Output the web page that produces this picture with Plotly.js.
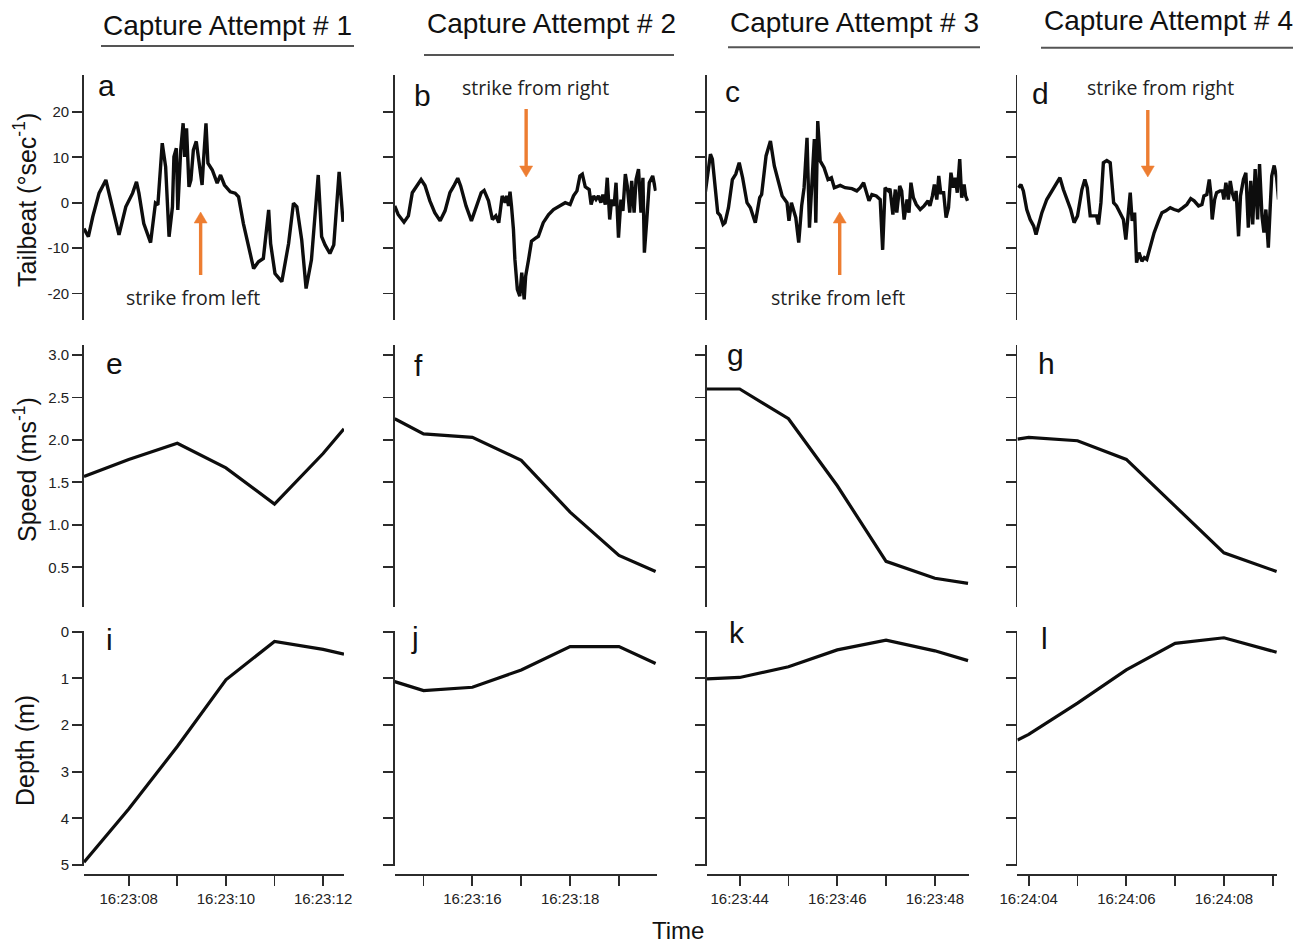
<!DOCTYPE html>
<html><head><meta charset="utf-8">
<script src="https://cdn.plot.ly/plotly-3.0.1.min.js"></script>
<style>html,body{margin:0;padding:0;background:#fff}#chart{width:1307px;height:946px}</style>
</head><body><div id="chart"></div>
<script>
// ---------------- DATA ----------------
const headers = ['Capture Attempt # 1','Capture Attempt # 2','Capture Attempt # 3','Capture Attempt # 4'];
const panelLetters = [['a','b','c','d'],['e','f','g','h'],['i','j','k','l']];
const rowTitles = ['Tailbeat (°sec<sup>-1</sup>)','Speed (ms<sup>-1</sup>)','Depth (m)'];
const strikeLabels = ['strike from left','strike from right','strike from left','strike from right'];
// strike times (s within the minute shown on each column's axis)
const strikeTimes = [9.48, 17.10, 46.05, 6.44];

// Tailbeat time series (seconds) and values (deg/sec)
const tA = [7.08,7.17,7.26,7.39,7.53,7.67,7.80,7.94,8.08,8.16,8.21,8.31,8.45,8.55,8.60,8.69,8.76,8.83,8.90,8.93,8.98,9.01,9.07,9.12,9.15,9.19,9.24,9.28,9.33,9.39,9.46,9.51,9.54,9.59,9.63,9.72,9.82,9.89,9.97,10.09,10.19,10.26,10.36,10.47,10.57,10.67,10.77,10.88,10.92,11.01,11.15,11.29,11.39,11.46,11.56,11.65,11.76,11.90,11.97,12.04,12.14,12.22,12.33,12.41];
const tbA = [-5.7,-7.5,-3.1,2.1,5.0,-0.9,-7.1,-0.9,2.1,4.6,2.1,-4.6,-8.8,-0.1,-0.5,13.1,7.9,-7.5,-0.9,10.1,12.0,-1.6,11.6,17.5,10.1,16.4,3.5,5.0,11.6,13.5,7.9,3.9,9.4,17.5,8.7,7.2,4.3,6.1,3.9,2.4,2.1,1.3,-4.6,-9.7,-14.5,-13.0,-12.3,-1.6,-9.0,-15.6,-17.4,-9.0,-0.1,-0.9,-8.2,-18.9,-12.6,6.1,-7.5,-9.3,-11.2,-9.3,6.8,-4.2];

const tB = [14.41,14.48,14.60,14.69,14.77,14.86,14.95,15.03,15.13,15.23,15.34,15.44,15.54,15.62,15.70,15.76,15.87,15.98,16.09,16.18,16.24,16.33,16.41,16.48,16.54,16.61,16.67,16.70,16.74,16.77,16.80,16.84,16.87,16.92,16.97,17.01,17.06,17.09,17.15,17.21,17.28,17.35,17.45,17.56,17.66,17.79,17.90,18.00,18.07,18.14,18.20,18.25,18.31,18.39,18.43,18.48,18.53,18.58,18.63,18.67,18.72,18.76,18.81,18.85,18.90,18.94,18.99,19.04,19.08,19.13,19.17,19.22,19.26,19.31,19.35,19.40,19.45,19.49,19.52,19.57,19.62,19.69,19.75];
const tbB = [-0.7,-2.6,-4.3,-2.9,2.2,3.8,5.1,3.8,0.4,-2.2,-4.0,-1.8,2.2,3.7,5.4,3.7,-0.7,-4.0,-0.7,2.2,2.7,0.4,-3.7,-2.9,-4.4,1.5,0,1.5,-0.7,2.4,-0.7,-5.9,-12.5,-19.1,-20.6,-15.4,-21.3,-16.2,-12.5,-8.5,-7.9,-7.4,-4.4,-2.6,-1.5,-0.7,0,-0.4,1.5,2.6,5.9,6.3,3.5,2.9,-0.4,1.5,0.7,1.5,0,1.8,-0.4,5.5,-3.7,0.7,-0.7,4.4,-7.7,0.7,-1.8,6.3,3.7,-2.2,4.8,-2.2,5.1,7.4,-2.2,5.5,-11.0,-3.7,4.4,5.9,2.6];

const tC = [43.29,43.34,43.40,43.44,43.50,43.55,43.60,43.66,43.70,43.77,43.85,43.92,43.99,44.06,44.15,44.22,44.32,44.41,44.45,44.54,44.63,44.71,44.80,44.87,44.97,45.01,45.06,45.10,45.15,45.21,45.27,45.32,45.38,45.43,45.48,45.53,45.56,45.60,45.65,45.73,45.81,45.88,45.94,46.06,46.16,46.30,46.40,46.47,46.54,46.61,46.65,46.71,46.80,46.88,46.93,46.98,47.05,47.08,47.14,47.19,47.22,47.28,47.32,47.37,47.43,47.47,47.51,47.56,47.62,47.70,47.78,47.86,47.90,47.95,47.99,48.04,48.08,48.12,48.18,48.23,48.28,48.33,48.38,48.42,48.46,48.51,48.55,48.60,48.63,48.67];
const tbC = [1.8,5.9,10.7,9.6,3.7,-2.2,-2.8,-4.8,-4.4,-1.1,5.1,6.3,8.8,5.5,0,-1.1,-4.4,1.1,1.8,10.3,13.6,8.1,4.4,1.5,0,-4.0,0,-1.8,-3.3,-8.8,-0.7,3.3,14.3,-5.5,4.4,14.0,-4.4,18.0,9.2,7.7,5.1,5.5,3.3,3.8,3.3,3.1,2.6,3.3,4.4,1.5,0.4,1.8,1.5,0.7,-10.4,3.3,2.6,3.1,-2.6,2.9,-2.2,3.7,2.6,-3.7,0.7,-2.2,4.4,1.1,-0.4,-1.5,-0.7,0.4,-0.7,1.5,4.0,0.7,5.9,2.2,2.2,-3.3,-1.1,6.6,3.3,5.5,2.2,9.6,1.1,4.0,1.5,0.4];

const tD = [3.79,3.84,3.89,3.96,4.03,4.10,4.15,4.20,4.27,4.37,4.47,4.57,4.64,4.71,4.78,4.86,4.93,5.00,5.09,5.15,5.20,5.26,5.33,5.39,5.43,5.48,5.53,5.60,5.67,5.74,5.80,5.87,5.94,5.99,6.03,6.08,6.12,6.17,6.21,6.26,6.32,6.37,6.42,6.49,6.57,6.66,6.73,6.81,6.90,6.98,7.07,7.16,7.24,7.32,7.39,7.48,7.55,7.59,7.65,7.70,7.73,7.76,7.81,7.85,7.92,7.97,8.00,8.04,8.09,8.13,8.17,8.22,8.25,8.30,8.34,8.40,8.45,8.50,8.55,8.59,8.64,8.69,8.73,8.78,8.82,8.86,8.91,8.95,8.98,9.03,9.08,9.12];
const tbD = [3.3,4.0,2.6,-1.5,-3.7,-5.1,-7.0,-5.1,-2.2,0.7,2.6,4.4,5.5,2.9,0.7,-1.5,-4.4,-2.9,2.9,5.1,3.3,-2.9,-2.9,-2.9,-4.8,0,8.8,9.3,8.8,0,-0.7,-2.2,-3.7,-8.1,-3.7,2.2,-4.0,-2.2,-13.2,-11.0,-12.9,-12.1,-12.5,-9.9,-6.6,-4.0,-2.2,-1.8,-1.1,-1.5,-1.8,-1.1,-0.4,0.9,0.4,-0.7,-0.4,1.5,1.8,5.1,2.2,-3.7,0.7,2.2,2.6,2.6,0.7,4.4,0.7,4.8,2.2,0.4,2.6,-7.4,1.5,5.1,6.6,-5.5,4.8,-4.8,7.4,-3.7,8.5,-2.9,-6.6,-1.5,-9.9,-0.7,5.9,8.2,5.5,0.7];

// Speed (m/s) and depth (m), sampled once per second
const sec1 = [7.08,8,9,10,11,12,12.43];
const speed1 = [1.57,1.77,1.96,1.67,1.245,1.84,2.13];
const depth1 = [4.94,3.80,2.46,1.03,0.21,0.38,0.48];
const sec2 = [14.41,15,16,17,18,19,19.75];
const speed2 = [2.25,2.07,2.03,1.76,1.15,0.64,0.45];
const depth2 = [1.07,1.26,1.19,0.82,0.32,0.32,0.68];
const sec3 = [43.33,44,45,46,47,48,48.68];
const speed3 = [2.60,2.60,2.25,1.46,0.57,0.37,0.31];
const depth3 = [1.01,0.98,0.75,0.39,0.18,0.41,0.62];
const sec4 = [3.77,4,5,6,7,8,9.08];
const speed4 = [2.01,2.03,1.99,1.77,1.22,0.67,0.45];
const depth4 = [2.32,2.20,1.53,0.82,0.25,0.13,0.44];

// Time ticks: labelled ticks and unlabelled (minor) one-second ticks
const xTickVals = [[8,10,12],[16,18],[44,46,48],[4,6,8]];
const xTickText = [
  ['16:23:08','16:23:10','16:23:12'],
  ['16:23:16','16:23:18'],
  ['16:23:44','16:23:46','16:23:48'],
  ['16:24:04','16:24:06','16:24:08']
];
const xMinorVals = [[9,11],[15,17,19],[45,47],[5,7,9]];
const yTickVals = [[-20,-10,0,10,20],[0.5,1.0,1.5,2.0,2.5,3.0],[0,1,2,3,4,5]];
const yTickText = [['-20','-10','0','10','20'],['0.5','1.0','1.5','2.0','2.5','3.0'],['0','1','2','3','4','5']];

// ---------------- LAYOUT HELPERS ----------------
const W = 1307, H = 946;
const px = x => x / W, py = y => 1 - y / H;
const colX = [[84,344],[394.7,656.6],[707,969],[1017.3,1277.3]];
const xRanges = [[7.08,12.43],[14.41,19.77],[43.33,48.70],[3.766,9.094]];
const rowY = [[75,320],[345,607],[631,866]];
const yRanges = [[-25.84,28.13],[0.032,3.118],[5.02,-0.015]];
const FONT = 'Liberation Sans, Arial, sans-serif';
const AX = '#2b2b2b';

const tailT = [tA,tB,tC,tD], tailV = [tbA,tbB,tbC,tbD];
const secs = [sec1,sec2,sec3,sec4];
const speeds = [speed1,speed2,speed3,speed4];
const depths = [depth1,depth2,depth3,depth4];

const traces = [];
const layout = {
  width: W, height: H, margin: {l:0,r:0,t:0,b:0},
  paper_bgcolor: '#fff', plot_bgcolor: 'rgba(0,0,0,0)',
  showlegend: false, font: {family: FONT, color: '#222'},
  annotations: [], shapes: []
};

for (let c = 0; c < 4; c++) {
  const xn = c === 0 ? '' : String(c + 1);
  layout['xaxis' + xn] = {
    domain: [px(colX[c][0]), px(colX[c][1])], range: xRanges[c],
    anchor: 'free', position: py(874),
    showline: true, linewidth: 1.8, linecolor: AX,
    ticks: 'outside', ticklen: 10, tickwidth: 1.8, tickcolor: AX,
    tickmode: 'array', tickvals: xTickVals[c], ticktext: xTickText[c],
    minor: {tickmode: 'array', tickvals: xMinorVals[c], ticks: 'outside',
            ticklen: 10, tickwidth: 1.8, tickcolor: AX, showgrid: false},
    tickfont: {size: 15, family: FONT, color: '#222'}, tickangle: 0,
    showgrid: false, zeroline: false, fixedrange: true
  };
  for (let r = 0; r < 3; r++) {
    const idx = r * 4 + c + 1;
    const yn = idx === 1 ? '' : String(idx);
    layout['yaxis' + yn] = {
      domain: [py(rowY[r][1]), py(rowY[r][0])], range: yRanges[r], autorange: false,
      anchor: 'x' + xn,
      showline: true, linewidth: 1.8, linecolor: AX,
      ticks: 'outside', ticklen: 10, tickwidth: 1.8, tickcolor: AX,
      tickmode: 'array', tickvals: yTickVals[r], ticktext: yTickText[r],
      showticklabels: c === 0,
      tickfont: {size: 15, family: FONT, color: '#222'},
      showgrid: false, zeroline: false, fixedrange: true
    };
    const xs = r === 0 ? tailT[c] : secs[c];
    const ys = r === 0 ? tailV[c] : (r === 1 ? speeds[c] : depths[c]);
    traces.push({
      type: 'scatter', mode: 'lines', x: xs, y: ys,
      xaxis: 'x' + xn, yaxis: 'y' + yn,
      line: {color: '#0d0d0d', width: r === 0 ? 3.4 : 3.2},
      hoverinfo: 'skip'
    });
  }
}

// Panel letters
const letterPos = [
  [[106,85],[422,95],[732,92],[1040,93]],
  [[114,363],[418,366],[735,354],[1046,363]],
  [[109,639],[415,637],[737,632],[1044,638]]
];
for (let r = 0; r < 3; r++) for (let c = 0; c < 4; c++) {
  layout.annotations.push({
    text: panelLetters[r][c], xref: 'paper', yref: 'paper',
    x: px(letterPos[r][c][0]), y: py(letterPos[r][c][1]),
    xanchor: 'center', yanchor: 'middle', showarrow: false,
    font: {size: 30, family: FONT, color: '#111'}
  });
}

// Row titles
const rowTitleY = [200, 470, 751];
for (let r = 0; r < 3; r++) {
  layout.annotations.push({
    text: rowTitles[r], xref: 'paper', yref: 'paper',
    x: px(25), y: py(rowTitleY[r]), xanchor: 'center', yanchor: 'middle',
    textangle: -90, showarrow: false,
    font: {size: 25, family: FONT, color: '#111'}
  });
}

// Time title
layout.annotations.push({
  text: 'Time', xref: 'paper', yref: 'paper', x: px(678), y: py(930),
  xanchor: 'center', yanchor: 'middle', showarrow: false,
  font: {size: 24, family: FONT, color: '#111'}
});

// Headers with underlines
const headerPos = [[227.5,25.7],[551,24],[854,22.4],[1168,20.7]];
const underline = [[101,354,46],[424,674,55],[728,980,47.3],[1041,1293,47.7]];
for (let c = 0; c < 4; c++) {
  layout.annotations.push({
    text: headers[c], xref: 'paper', yref: 'paper',
    x: px(headerPos[c][0]), y: py(headerPos[c][1]),
    xanchor: 'center', yanchor: 'middle', showarrow: false,
    font: {size: 28, family: FONT, color: '#111'}
  });
  layout.shapes.push({
    type: 'line', xref: 'paper', yref: 'paper',
    x0: px(underline[c][0]), x1: px(underline[c][1]),
    y0: py(underline[c][2]), y1: py(underline[c][2]),
    line: {color: '#555', width: 2}
  });
}

// Strike arrows (shaft + head as shapes) and labels
const ORANGE = '#ED7D31';
const arrowTipY = [212, 177, 212, 177];
const arrowTailY = [275, 109, 275, 110];
const headLen = 11, headHalfW = 6.5;       // pixels
const secPerPx = 1 / 48.75;                 // x scale of every column
const labelPos = [[193,297],[535,88],[838,297],[1160,88]];
for (let c = 0; c < 4; c++) {
  const xn = c === 0 ? '' : String(c + 1);
  const xr = 'x' + xn;
  const t = strikeTimes[c];
  const dir = arrowTailY[c] > arrowTipY[c] ? 1 : -1; // +1: arrow points up
  const baseY = arrowTipY[c] + dir * headLen;
  layout.shapes.push({
    type: 'line', xref: xr, yref: 'paper',
    x0: t, x1: t, y0: py(arrowTailY[c]), y1: py(baseY),
    line: {color: ORANGE, width: 3.4}
  });
  const hw = headHalfW * secPerPx;
  layout.shapes.push({
    type: 'path', xref: xr, yref: 'paper',
    path: `M ${t - hw},${py(baseY)} L ${t + hw},${py(baseY)} L ${t},${py(arrowTipY[c])} Z`,
    fillcolor: ORANGE, line: {color: ORANGE, width: 0.5}
  });
  layout.annotations.push({
    text: strikeLabels[c], xref: 'paper', yref: 'paper',
    x: px(labelPos[c][0]), y: py(labelPos[c][1]),
    xanchor: 'center', yanchor: 'middle', showarrow: false,
    font: {size: 19.5, family: 'Open Sans, Noto Sans, sans-serif', color: '#222'}
  });
}

Plotly.newPlot('chart', traces, layout, {displayModeBar: false, staticPlot: true});
</script>
</body></html>
